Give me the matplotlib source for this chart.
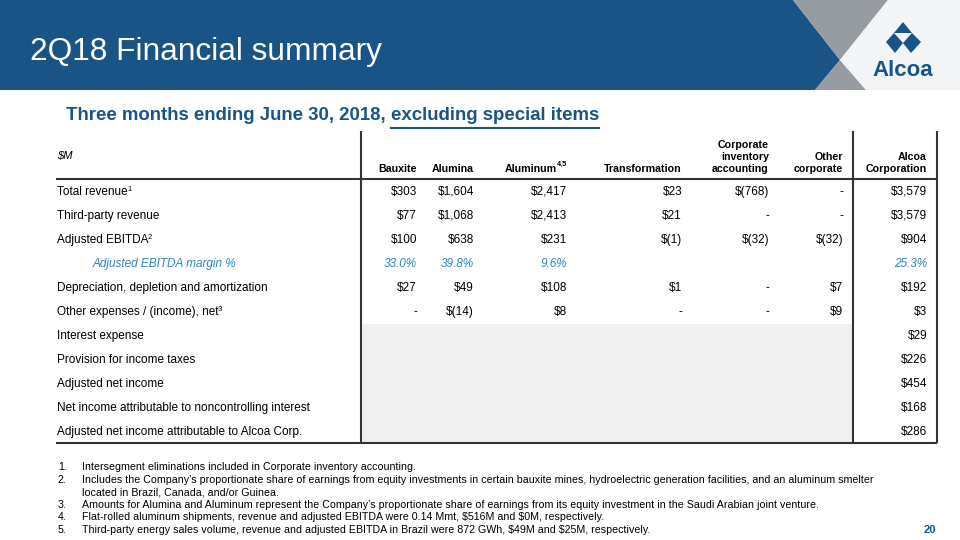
import matplotlib.pyplot as plt
from matplotlib.patches import Polygon, Rectangle

plt.rcParams["font.family"] = ["Liberation Sans", "DejaVu Sans"]
plt.rcParams["text.parse_math"] = False

BLUE = "#1A5487"
LIGHT_BLUE = "#2B86C5"

title = "2Q18 Financial summary"
subtitle = "Three months ending June 30, 2018, "
subtitle_link = "excluding special items"

col_headers = ["Bauxite", "Alumina", "Aluminum", "Transformation",
               "Corporate\ninventory\naccounting", "Other\ncorporate", "Alcoa\nCorporation"]
col_header_notes = ["", "", "4,5", "", "", "", ""]

row_labels = [
    "Total revenue",
    "Third-party revenue",
    "Adjusted EBITDA",
    "Adjusted EBITDA margin %",
    "Depreciation, depletion and amortization",
    "Other expenses / (income), net",
    "Interest expense",
    "Provision for income taxes",
    "Adjusted net income",
    "Net income attributable to noncontrolling interest",
    "Adjusted net income attributable to Alcoa Corp.",
]
row_notes = ["1", "", "2", "", "", "3", "", "", "", "", ""]

bauxite = ["$303", "$77", "$100", "33.0%", "$27", "-"]
alumina = ["$1,604", "$1,068", "$638", "39.8%", "$49", "$(14)"]
aluminum = ["$2,417", "$2,413", "$231", "9.6%", "$108", "$8"]
transformation = ["$23", "$21", "$(1)", "", "$1", "-"]
corp_inventory = ["$(768)", "-", "$(32)", "", "-", "-"]
other_corporate = ["-", "-", "$(32)", "", "$7", "$9"]
alcoa_corp = ["$3,579", "$3,579", "$904", "25.3%", "$192", "$3",
              "$29", "$226", "$454", "$168", "$286"]

footnotes = [
    "Intersegment eliminations included in Corporate inventory accounting.",
    "Includes the Company\u2019s proportionate share of earnings from equity investments in certain bauxite mines, "
    "hydroelectric generation facilities, and an aluminum smelter\nlocated in Brazil, Canada, and/or Guinea.",
    "Amounts for Alumina and Aluminum represent the Company\u2019s proportionate share of earnings from its equity "
    "investment in the Saudi Arabian joint venture.",
    "Flat-rolled aluminum shipments, revenue and adjusted EBITDA were 0.14 Mmt, $516M and $0M, respectively.",
    "Third-party energy sales volume, revenue and adjusted EBITDA in Brazil were 872 GWh, $49M and $25M, respectively.",
]

fig = plt.figure(figsize=(9.6, 5.4), dpi=100)
ax = fig.add_axes([0, 0, 1, 1])
ax.set_xlim(0, 960)
ax.set_ylim(540, 0)
ax.axis("off")
inv = ax.transData.inverted()


def extent_x(txt):
    fig.canvas.draw()
    return inv.transform(txt.get_window_extent().get_points())[:, 0]


# header band
ax.add_patch(Polygon([(0, 0), (793, 0), (840, 60), (815, 90), (0, 90)], color=BLUE, lw=0))
ax.add_patch(Polygon([(793, 0), (888, 0), (840, 60)], color="#969CA1", lw=0))
ax.add_patch(Polygon([(815, 90), (866, 90), (840, 60)], color="#969CA1", lw=0))
ax.add_patch(Polygon([(888, 0), (960, 0), (960, 90), (866, 90), (840, 60)], color="#F2F4F6", lw=0))
ax.text(30, 52, title, color="white", fontsize=22.8, va="center", ha="left")

# logo
ax.add_patch(Polygon([(903, 22), (912, 33), (894, 33)], color=BLUE, lw=0))
ax.add_patch(Polygon([(886, 42), (894, 33), (903, 43), (895, 53)], color=BLUE, lw=0))
ax.add_patch(Polygon([(921, 42), (912, 33), (903, 43), (911, 53)], color=BLUE, lw=0))
ax.text(903, 70, "Alcoa", color=BLUE, fontsize=16, fontweight="bold", ha="center", va="center")

# subtitle, second part underlined
sub_kw = dict(color=BLUE, fontsize=13.4, fontweight="bold", va="center", ha="left")
t = ax.text(66, 116, subtitle, **sub_kw)
t2 = ax.text(extent_x(t)[1], 116, subtitle_link, **sub_kw)
x0, x1 = extent_x(t2)
ax.plot([x0, x1], [127.5, 127.5], color=BLUE, lw=1.5)

# table
left, right = 56, 937
v_label, v_alcoa = 361, 853
top, head_line, bottom = 131, 178.5, 443
row_y0, row_step = 191.7, 24

shade_top = row_y0 + 5.5 * row_step
ax.add_patch(Rectangle((v_label, shade_top), v_alcoa - v_label, bottom - shade_top,
                       color="#F0F0F0", lw=0))
line_kw = dict(color="#333333", lw=1.5, solid_capstyle="butt")
ax.plot([left, right], [head_line, head_line], **line_kw)
ax.plot([left, right], [bottom, bottom], **line_kw)
for x in (v_label, v_alcoa, right):
    ax.plot([x, x], [top, bottom], **line_kw)

col_right = [417, 474, 567, 682, 769, 843, 927]
columns = [bauxite, alumina, aluminum, transformation, corp_inventory, other_corporate, alcoa_corp]

ax.text(57, 156, "$M", fontsize=8, style="italic", va="center", ha="left")
for x, h, note in zip(col_right, col_headers, col_header_notes):
    if note:
        sup = ax.text(x, 166, note, fontsize=5.2, fontweight="bold", ha="right", va="baseline")
        x = extent_x(sup)[0]
    ax.text(x, 172, h, fontsize=7.7, fontweight="bold", ha="right", va="baseline",
            multialignment="right", linespacing=1.25)

for i, (label, note) in enumerate(zip(row_labels, row_notes)):
    y = row_y0 + i * row_step
    if i == 3:
        ax.text(93, y, label, fontsize=8.5, style="italic", color=LIGHT_BLUE, va="center")
        continue
    lab = ax.text(57, y, label, fontsize=8.5, va="center")
    if note:
        ax.text(extent_x(lab)[1] - 0.5, y - 2.5, note, fontsize=5.5, va="center")

for x, vals in zip(col_right, columns):
    for i, v in enumerate(vals):
        y = row_y0 + i * row_step
        if i == 3:
            ax.text(x, y, v, fontsize=8.5, style="italic", color=LIGHT_BLUE, ha="right", va="center")
        else:
            ax.text(x, y, v, fontsize=8.5, ha="right", va="center")

# footnotes
fy = 467.5
for n, note in enumerate(footnotes, start=1):
    ax.text(58, fy, f"{n}.", fontsize=7.7, va="center")
    for ln in note.split("\n"):
        ax.text(82, fy, ln, fontsize=7.7, va="center")
        fy += 12.5

ax.text(930, 530, "20", color=BLUE, fontsize=8, fontweight="bold", ha="center", va="center")

fig.savefig("out.png", dpi=100)
